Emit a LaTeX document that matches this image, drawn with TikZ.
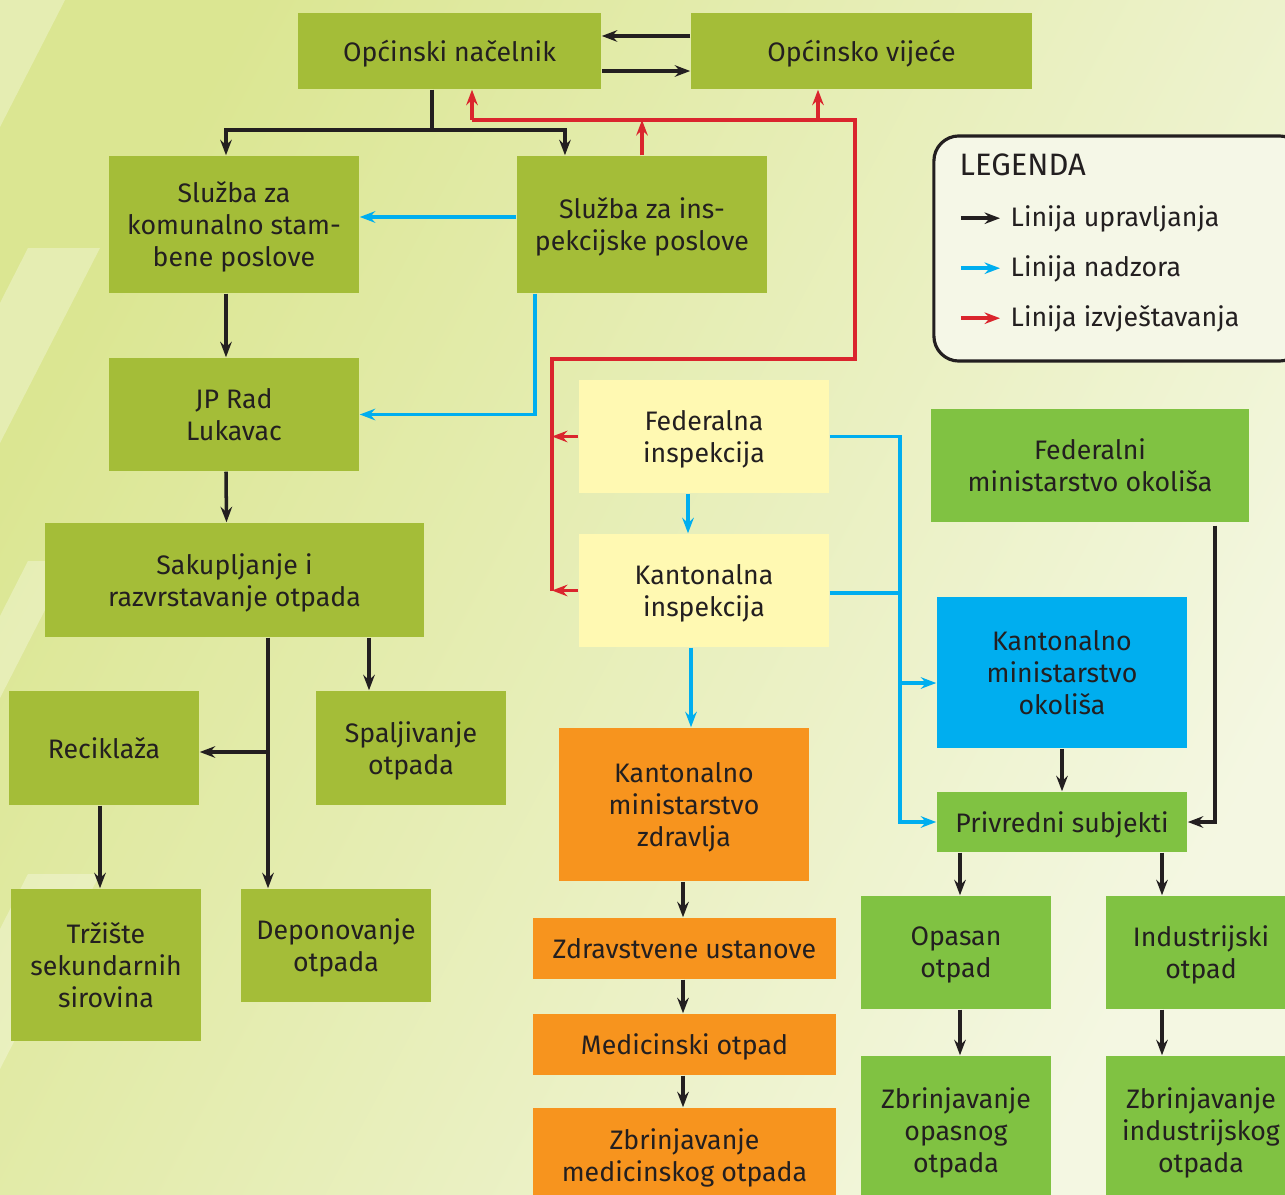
\documentclass[tikz,border=0pt]{standalone}
\usepackage{fontspec}
\setmainfont{Fira Sans}
\usetikzlibrary{arrows.meta}

\definecolor{boxolive}{RGB}{164,189,56}
\definecolor{boxleaf}{RGB}{128,194,66}
\definecolor{boxsky}{RGB}{0,174,239}
\definecolor{boxorange}{RGB}{247,148,30}
\definecolor{boxpale}{RGB}{255,249,178}
\definecolor{linered}{RGB}{218,37,45}
\definecolor{ink}{RGB}{35,31,32}
\definecolor{bgleft}{RGB}{219,230,146}
\definecolor{bgright}{RGB}{244,247,226}
\definecolor{legfill}{RGB}{245,247,231}

\begin{document}
\begin{tikzpicture}[x = .01cm, y = -.01cm,
  every node/.style = {text = ink, font = \fontsize{7.6}{9.1}\selectfont, align = center, inner sep = 0pt, text depth = 0pt},
  olivebox/.style = {fill = boxolive},
  leafbox/.style = {fill = boxleaf},
  skybox/.style = {fill = boxsky},
  orangebox/.style = {fill = boxorange},
  palebox/.style = {fill = boxpale},
  tip/.style = {-{Stealth[length = 4.4pt, width = 3.3pt, inset = 1.5pt]}},
  ctrl/.style = {draw = ink, line width = 1pt, tip},
  ctrlline/.style = {draw = ink, line width = 1pt},
  nadz/.style = {draw = boxsky, line width = 1pt, tip},
  nadzline/.style = {draw = boxsky, line width = 1pt},
  izvj/.style = {draw = linered, line width = 1pt, tip},
  izvjline/.style = {draw = linered, line width = 1pt}]

\useasboundingbox (0, 0) rectangle (1285, 1194);
\clip (0, 0) rectangle (1285, 1194);

\shade[top color = bgleft, bottom color = bgright, shading angle = 62] (0, 0) rectangle (1285, 1194);

\fill[white, opacity = .3] (0, 0) -- (65, 0) -- (0, 127) -- cycle;
\fill[white, opacity = .3] (28, 248) -- (100, 248) -- (0, 443) -- (0, 303) -- cycle;
\fill[white, opacity = .3] (28, 561) -- (70, 561) -- (0, 698) -- (0, 616) -- cycle;
\fill[white, opacity = .3] (28, 874) -- (100, 874) -- (0, 1069) -- (0, 929) -- cycle;

\node[olivebox, minimum width = 3.03cm, minimum height = .76cm] (nacelnik) at (449.5, 51) {Općinski načelnik};
\node[olivebox, minimum width = 3.41cm, minimum height = .76cm] (vijece) at (861.5, 51) {Općinsko vijeće};

\node[olivebox, minimum width = 2.5cm, minimum height = 1.37cm] (komunalno) at (234, 224.5) {Služba za\\komunalno stam-\\bene poslove};
\node[olivebox, minimum width = 2.5cm, minimum height = 1.37cm] (inspekcije) at (642, 224.5) {Služba za ins-\\pekcijske poslove};

\node[olivebox, minimum width = 2.5cm, minimum height = 1.13cm] (jprad) at (234, 414.5) {JP Rad\\Lukavac};
\node[olivebox, minimum width = 3.79cm, minimum height = 1.14cm] (sakupljanje) at (234.5, 580) {Sakupljanje i\\razvrstavanje otpada};

\node[olivebox, minimum width = 1.9cm, minimum height = 1.14cm] (reciklaza) at (104, 748) {Reciklaža};
\node[olivebox, minimum width = 1.9cm, minimum height = 1.14cm] (spaljivanje) at (411, 748) {Spaljivanje\\otpada};
\node[olivebox, minimum width = 1.9cm, minimum height = 1.52cm] (trziste) at (106, 965) {Tržište\\sekundarnih\\sirovina};
\node[olivebox, minimum width = 1.9cm, minimum height = 1.13cm] (deponovanje) at (336, 945.5) {Deponovanje\\otpada};

\node[palebox, minimum width = 2.5cm, minimum height = 1.13cm] (fedinsp) at (704, 436.5) {Federalna\\inspekcija};
\node[palebox, minimum width = 2.5cm, minimum height = 1.13cm] (kaninsp) at (704, 590.5) {Kantonalna\\inspekcija};

\node[orangebox, minimum width = 2.5cm, minimum height = 1.53cm] (kmzdravlja) at (684, 804.5) {Kantonalno\\ministarstvo\\zdravlja};
\node[orangebox, minimum width = 3.03cm, minimum height = .61cm] (ustanove) at (684.5, 948.5) {Zdravstvene ustanove};
\node[orangebox, minimum width = 3.03cm, minimum height = .61cm] (medicinski) at (684.5, 1044.5) {Medicinski otpad};
\node[orangebox, minimum width = 3.03cm, minimum height = .94cm] (zbrmedicinski) at (684.5, 1155) {Zbrinjavanje\\medicinskog otpada};

\node[leafbox, minimum width = 3.18cm, minimum height = 1.13cm] (fedmin) at (1090, 465.5) {Federalni\\ministarstvo okoliša};
\node[skybox, minimum width = 2.5cm, minimum height = 1.51cm] (kmokolisa) at (1062, 672.5) {Kantonalno\\ministarstvo\\okoliša};
\node[leafbox, minimum width = 2.5cm, minimum height = .6cm] (privredni) at (1062, 822) {Privredni subjekti};

\node[leafbox, minimum width = 1.9cm, minimum height = 1.13cm] (opasan) at (956, 952.5) {Opasan\\otpad};
\node[leafbox, minimum width = 1.9cm, minimum height = 1.13cm] (industrijski) at (1201, 952.5) {Industrijski\\otpad};
\node[leafbox, minimum width = 1.9cm, minimum height = 1.48cm] (zbropasni) at (956, 1130) {Zbrinjavanje\\opasnog\\otpada};
\node[leafbox, minimum width = 1.9cm, minimum height = 1.48cm] (zbrindustr) at (1201, 1130) {Zbrinjavanje\\industrijskog\\otpada};

\node[draw = ink, line width = .9pt, fill = legfill, rounded corners = .25cm, minimum width = 3.7cm, minimum height = 2.25cm] (legenda) at (1119, 248.5) {};
\node[anchor = base west, font = \fontsize{8.8}{10}\selectfont] (legtitle) at (959, 175.7) {LEGENDA};
\node[anchor = base west] (legctrl) at (1010, 226.7) {Linija upravljanja};
\node[anchor = base west] (legnadz) at (1010, 276.7) {Linija nadzora};
\node[anchor = base west] (legizvj) at (1010, 326.7) {Linija izvještavanja};

\draw[ctrl] ([shift = {(-.49cm, .085cm)}]legctrl.base west) to ([shift = {(-.1cm, .085cm)}]legctrl.base west);
\draw[nadz] ([shift = {(-.49cm, .085cm)}]legnadz.base west) to ([shift = {(-.1cm, .085cm)}]legnadz.base west);
\draw[izvj] ([shift = {(-.49cm, .085cm)}]legizvj.base west) to ([shift = {(-.1cm, .085cm)}]legizvj.base west);

\draw[ctrl] ([yshift = .15cm]vijece.west) to ([yshift = .15cm]nacelnik.east);
\draw[ctrl] ([yshift = -.2cm]nacelnik.east) to ([yshift = -.2cm]vijece.west);

\coordinate (split) at (432, 130);
\draw[ctrlline] (nacelnik.south -| split) to (split);
\draw[ctrl] (split) -| ([xshift = -.08cm]komunalno.north);
\draw[ctrl] (split) -| ([xshift = -.77cm]inspekcije.north);

\draw[ctrl] ([xshift = -.08cm]komunalno.south) to ([xshift = -.08cm]jprad.north);
\draw[ctrl] ([xshift = -.08cm]jprad.south) to ([xshift = -.08cm]sakupljanje.north);

\coordinate (sakbranch) at (268, 752);
\draw[ctrl] (sakupljanje.south -| sakbranch) to (deponovanje.north -| sakbranch);
\draw[ctrl] (sakbranch) to (sakbranch -| reciklaza.east);
\draw[ctrl] (sakupljanje.south -| 369, 0) to (spaljivanje.north -| 369, 0);
\draw[ctrl] (reciklaza.south -| 100, 0) to (trziste.north -| 100, 0);

\draw[ctrl] (kmzdravlja.south -| 683, 0) to (ustanove.north -| 683, 0);
\draw[ctrl] (ustanove.south -| 683, 0) to (medicinski.north -| 683, 0);
\draw[ctrl] (medicinski.south -| 683, 0) to (zbrmedicinski.north -| 683, 0);

\draw[ctrl] (kmokolisa.south) to (privredni.north);
\draw[ctrl] ([yshift = -.03cm]fedmin.south -| 1215, 0) |- (privredni.east);
\draw[ctrl] (privredni.south -| 960, 0) to (opasan.north -| 960, 0);
\draw[ctrl] (privredni.south -| 1162, 0) to (industrijski.north -| 1162, 0);
\draw[ctrl] (opasan.south -| 960, 0) to (zbropasni.north -| 960, 0);
\draw[ctrl] (industrijski.south -| 1162, 0) to (zbrindustr.north -| 1162, 0);

\draw[nadz] ([yshift = .075cm]inspekcije.west) to ([yshift = .075cm]komunalno.east);
\draw[nadz] (inspekcije.south -| 535, 0) |- (jprad.east);
\draw[nadz] (fedinsp.south -| 688, 0) to (kaninsp.north -| 688, 0);
\draw[nadz] (kaninsp.south -| 691, 0) to (kmzdravlja.north -| 691, 0);

\coordinate (bus) at (900, 0);
\draw[nadz] (fedinsp.east) -| (bus |- privredni.west) to (privredni.west);
\draw[nadzline] ([yshift = -.025cm]kaninsp.east) to ([yshift = -.025cm]kaninsp.east -| bus);
\draw[nadz] ([yshift = -.105cm]kmokolisa.west -| bus) to ([yshift = -.105cm]kmokolisa.west);

\coordinate (redA) at (552, 590.5);
\coordinate (redB) at (855, 359);
\coordinate (redC) at (472, 120);
\draw[izvjline] (redA) |- (redB) |- (redC);
\draw[izvj] (redC) to (nacelnik.south -| redC);
\draw[izvj] (redC -| 818, 0) to (vijece.south -| 818, 0);
\draw[izvj] (inspekcije.north) to (inspekcije.north |- redC);
\draw[izvj] (fedinsp.west) to (fedinsp.west -| redA);
\draw[izvj] (kaninsp.west) to (redA);

\end{tikzpicture}
\end{document}
